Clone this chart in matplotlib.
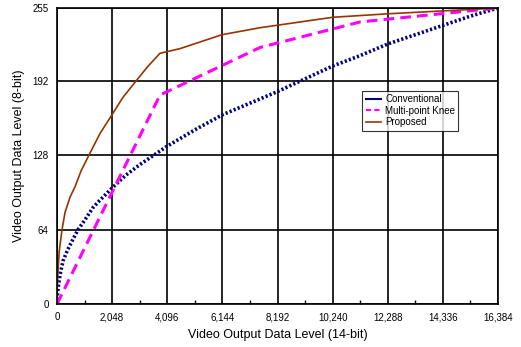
import matplotlib
matplotlib.use("Agg")
import matplotlib.pyplot as plt
from matplotlib.ticker import MultipleLocator

""" Data read off the reference """
conv_x = [0, 20, 50, 111, 223, 400, 600, 780, 1024, 1337, 1536, 2048, 2560, 3072, 3584, 4096, 5120,
          6144, 7168, 8192, 9216, 10240, 11264, 12288, 13312, 14336, 15360, 16384]
conv_y = [0, 8, 15, 25, 37, 47, 56, 64, 72, 83, 88, 100, 111, 120, 128, 136, 150,
          163, 173, 183, 194, 205, 214, 224, 232, 240, 248, 255]

knee_x = [0, 3827, 7542, 11264, 16384]
knee_y = [0, 180, 221, 243, 255]

prop_x = [0, 10, 37, 80, 186, 300, 483, 669, 900, 1226, 1600, 2043, 2450, 2898, 3350, 3827,
          4570, 6130, 7542, 10240, 12288, 16384]
prop_y = [0, 14, 28, 45, 64, 79, 92, 101, 115, 130, 147, 163, 178, 191, 204, 216,
          220, 232, 238, 247, 250, 255]

x_ticks = [0, 2048, 4096, 6144, 8192, 10240, 12288, 14336, 16384]
y_ticks = [0, 64, 128, 192, 255]

plt.rcParams['font.family'] = ['Liberation Sans', 'DejaVu Sans']

fig = plt.figure(figsize=(5.21, 3.47), dpi=100, facecolor='w')
ax = fig.add_axes([57 / 521, 1 - 304 / 347, 441 / 521, 296 / 347])

ax.plot(conv_x, conv_y, color='#000080', linestyle=(0, (0.6, 0.6)), linewidth=2.6, label='Conventional')
ax.plot(knee_x, knee_y, color='#FF00FF', linestyle=(0, (3.5, 2)), linewidth=2.2, label='Multi-point Knee')
ax.plot(prop_x, prop_y, color='#993300', linestyle='-', linewidth=1.2, label='Proposed')

ax.set_xlim(0, 16384)
ax.set_ylim(0, 255)
ax.set_xticks(x_ticks)
ax.set_xticklabels([f'{v:,}' for v in x_ticks])
ax.set_yticks(y_ticks)
ax.xaxis.set_minor_locator(MultipleLocator(1024))
ax.tick_params(axis='both', which='major', length=0, labelsize=7, pad=6)
ax.tick_params(axis='x', which='minor', direction='in', length=3, width=1)
ax.grid(True, which='major', color='black', linewidth=1.2)

for s in ax.spines.values():
    s.set_color('black')
    s.set_linewidth(1.2)

ax.set_xlabel('Video Output Data Level (14-bit)', fontsize=9, labelpad=5)
ax.set_ylabel('Video Output Data Level (8-bit)', fontsize=9, labelpad=5)

leg = ax.legend(loc='upper left', bbox_to_anchor=(0.692, 0.72), borderaxespad=0, fontsize=7,
                frameon=True, fancybox=False, handlelength=1.6, borderpad=0.35,
                labelspacing=0.15, handletextpad=0.4)
leg.get_frame().set_edgecolor('black')
leg.get_frame().set_linewidth(0.8)
handles = leg.get_lines()
handles[0].set_linestyle('-')
handles[0].set_linewidth(1.5)
handles[1].set_linestyle((0, (2.5, 1.5)))
handles[1].set_linewidth(1.5)
handles[2].set_linewidth(1.2)

plt.savefig('out.png', dpi=100)
